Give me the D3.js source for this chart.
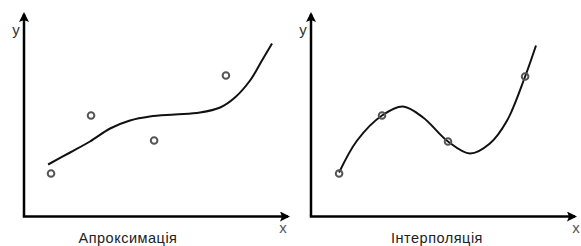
<!DOCTYPE html>
<html>
<head>
<meta charset="utf-8">
<script src="https://cdn.jsdelivr.net/npm/d3@7"></script>
<style>
  body { margin: 0; background: #fff; }
  svg { display: block; }
</style>
</head>
<body>
<div id="chart"></div>
<script>
// approximation panel
const approxPoints = [[1.02, 2.15], [2.53, 5.05], [4.91, 3.8], [7.62, 7.05]]
const approxCurve = [[0.91, 2.6], [1.74, 3.2], [2.49, 3.75], [3.25, 4.4], [4.0, 4.8], [4.75, 5.0],
  [5.7, 5.1], [6.64, 5.2], [7.4, 5.45], [7.96, 5.95], [8.53, 6.8], [8.98, 7.8], [9.36, 8.65]]
// interpolation panel
const interpPoints = [[1.06, 2.15], [2.68, 5.05], [5.17, 3.75], [8.08, 7.0]]
const interpCurve = [[1.06, 2.2], [1.74, 3.8], [2.68, 5.05], [3.47, 5.5], [4.23, 4.95], [5.17, 3.75],
  [6.0, 3.15], [6.75, 3.65], [7.4, 4.8], [8.08, 7.0], [8.49, 8.55]]
const titles = ['Апроксимація', 'Інтерполяція']

const width = 581, height = 246

const svg = d3.select('#chart').append('svg')
  .attr('width', width)
  .attr('height', height)

const defs = svg.append('defs')
defs.append('marker')
  .attr('id', 'arrow')
  .attr('viewBox', '0 0 10 10')
  .attr('refX', 8).attr('refY', 5)
  .attr('markerWidth', 4.4).attr('markerHeight', 4)
  .attr('markerUnits', 'strokeWidth')
  .attr('orient', 'auto')
  .append('path')
  .attr('d', 'M0,0 L10,5 L0,10 L2,5 z')
  .attr('fill', '#000')

const y = d3.scaleLinear().domain([0, 10]).range([216.5, 16.5])

function panel(x0, pts, curve, title, xLabelX) {
  const x = d3.scaleLinear().domain([0, 10]).range([x0, x0 + 265])
  const g = svg.append('g')

  // axes
  g.append('line')
    .attr('x1', x(0)).attr('y1', y(0))
    .attr('x2', x(0)).attr('y2', 14)
    .attr('stroke', '#000').attr('stroke-width', 2.5)
    .attr('marker-end', 'url(#arrow)')
  g.append('line')
    .attr('x1', x(0) - 1.2).attr('y1', y(0))
    .attr('x2', x(10) - 1).attr('y2', y(0))
    .attr('stroke', '#000').attr('stroke-width', 2.5)
    .attr('marker-end', 'url(#arrow)')

  g.append('text')
    .attr('x', x(0) - 8).attr('y', 35)
    .attr('text-anchor', 'middle')
    .attr('font-family', 'Liberation Sans, Arial, sans-serif')
    .attr('font-size', 15).attr('fill', '#333')
    .text('y')
  g.append('text')
    .attr('x', xLabelX).attr('y', 233)
    .attr('text-anchor', 'middle')
    .attr('font-family', 'Liberation Sans, Arial, sans-serif')
    .attr('font-size', 15).attr('fill', '#555')
    .text('x')

  const line = d3.line()
    .x(d => x(d[0]))
    .y(d => y(d[1]))
    .curve(d3.curveCatmullRom.alpha(0.5))

  g.append('path')
    .datum(curve)
    .attr('d', line)
    .attr('fill', 'none')
    .attr('stroke', '#111')
    .attr('stroke-width', 2)

  g.selectAll('circle')
    .data(pts)
    .enter().append('circle')
    .attr('cx', d => x(d[0]))
    .attr('cy', d => y(d[1]))
    .attr('r', 3.3)
    .attr('fill', 'none')
    .attr('stroke', '#555')
    .attr('stroke-width', 2)

  g.append('text')
    .attr('x', x(0) + (title === titles[0] ? 104 : 126)).attr('y', 243)
    .attr('text-anchor', 'middle')
    .attr('font-family', 'Liberation Sans, Arial, sans-serif')
    .attr('font-size', 14.5).attr('letter-spacing', 0.5).attr('fill', '#222')
    .text(title)
}

panel(24, approxPoints, approxCurve, titles[0], 283)
panel(311, interpPoints, interpCurve, titles[1], 576)
</script>
</body>
</html>
